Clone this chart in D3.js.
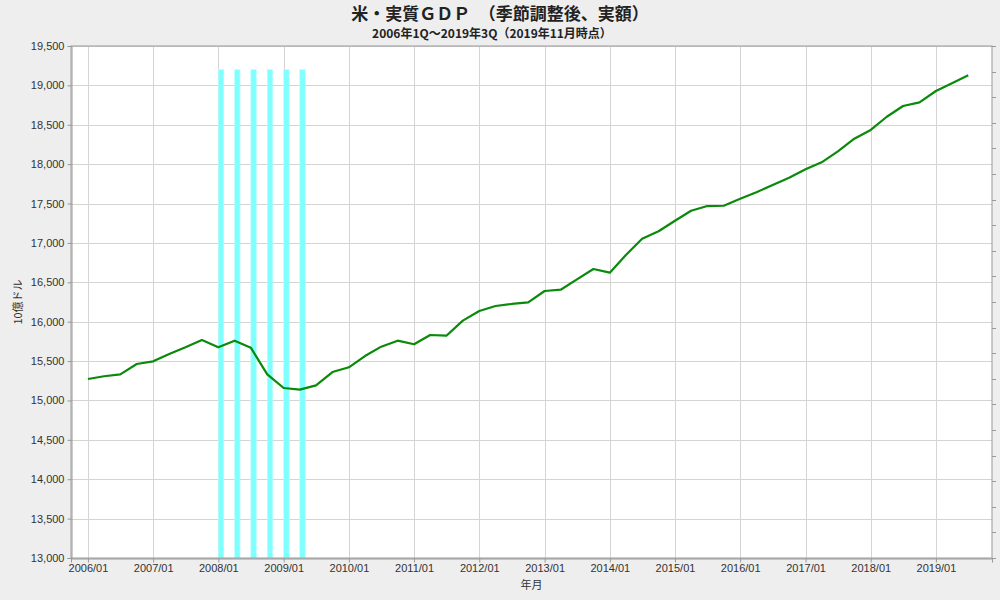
<!DOCTYPE html>
<html>
<head>
<meta charset="utf-8">
<script src="https://cdn.jsdelivr.net/npm/d3@7"></script>
<style>
    body { margin: 0; background: #eeeeee; }
    svg text { font-family: "Liberation Sans", Arial, sans-serif; }
    .jp { font-family: "Noto Sans CJK JP", sans-serif; }
</style>
</head>
<body>
<div id="chart"></div>
<script>
"use strict";

// quarterly real GDP, billions of chained dollars, 2006Q1 .. 2019Q3
var quarters = [];
for (var yr = 2006; yr <= 2019; yr++) {
    for (var q = 0; q < 4; q++) {
        if (yr === 2019 && q > 2) break;
        quarters.push(new Date(yr, q * 3, 1));
    }
}
var gdpValues = [
    15272, 15307, 15332, 15463,   // 2006
    15497, 15590, 15675, 15767,   // 2007
    15675, 15759, 15670, 15332,   // 2008
    15158, 15137, 15192, 15361,   // 2009
    15421, 15564, 15683, 15759,   // 2010
    15713, 15831, 15822, 16013,   // 2011
    16136, 16199, 16225, 16246,   // 2012
    16390, 16406, 16538, 16669,   // 2013
    16622, 16847, 17054, 17148,   // 2014
    17282, 17409, 17468, 17472,   // 2015
    17561, 17643, 17735, 17828,   // 2016
    17934, 18023, 18163, 18323,   // 2017
    18434, 18602, 18738, 18785,   // 2018
    18929, 19026, 19128           // 2019
];
// recession quarters (shaded)
var recessionQuarters = ["2008-01", "2008-04", "2008-07", "2008-10", "2009-01", "2009-04"];
var recessionTop = 19200;
var yTicks = [13000, 13500, 14000, 14500, 15000, 15500, 16000, 16500, 17000, 17500, 18000, 18500, 19000, 19500];
var xTickYears = [2006, 2007, 2008, 2009, 2010, 2011, 2012, 2013, 2014, 2015, 2016, 2017, 2018, 2019];

var data = quarters.map(function (d, i) { return { date: d, value: gdpValues[i] }; });

var width = 1000, height = 600;
var margin = { top: 46, right: 8, bottom: 42, left: 71 };
var plotW = width - margin.left - margin.right;
var plotH = height - margin.top - margin.bottom;

var svg = d3.select("#chart").append("svg")
    .attr("width", width)
    .attr("height", height);

svg.append("rect").attr("width", width).attr("height", height).attr("fill", "#eeeeee");

var x = d3.scaleTime()
    .domain([new Date(2005, 8, 28), new Date(2019, 10, 11)])
    .range([0, plotW]);
var y = d3.scaleLinear()
    .domain([13000, 19500])
    .range([plotH, 0]);

var g = svg.append("g").attr("transform", "translate(" + margin.left + "," + margin.top + ")");

g.append("rect").attr("width", plotW).attr("height", plotH).attr("fill", "#ffffff");

var xTicks = xTickYears.map(function (yv) { return new Date(yv, 0, 1); });

// grid
g.append("g").selectAll("line").data(yTicks).enter().append("line")
    .attr("x1", 0).attr("x2", plotW)
    .attr("y1", function (d) { return Math.round(y(d)) + 0.5; })
    .attr("y2", function (d) { return Math.round(y(d)) + 0.5; })
    .attr("stroke", "#d4d4d4");
g.append("g").selectAll("line").data(xTicks).enter().append("line")
    .attr("y1", 0).attr("y2", plotH)
    .attr("x1", function (d) { return Math.round(x(d)) + 0.5; })
    .attr("x2", function (d) { return Math.round(x(d)) + 0.5; })
    .attr("stroke", "#d4d4d4");

// recession bars
var barW = (x(new Date(2008, 3, 1)) - x(new Date(2008, 0, 1))) / 3;
g.append("g").selectAll("rect").data(recessionQuarters).enter().append("rect")
    .attr("x", function (d) { return x(d3.timeParse("%Y-%m")(d)); })
    .attr("y", y(recessionTop))
    .attr("width", barW)
    .attr("height", function () { return plotH - y(recessionTop); })
    .attr("fill", "#80ffff")
    .attr("stroke", "#b8ffff")
    .attr("stroke-width", 0.6);

// line
var line = d3.line()
    .x(function (d) { return x(d.date); })
    .y(function (d) { return y(d.value); });
g.append("path").datum(data)
    .attr("d", line)
    .attr("fill", "none")
    .attr("stroke", "#0a8a0a")
    .attr("stroke-width", 2.2)
    .attr("stroke-linejoin", "round");

// frame
g.append("rect").attr("width", plotW).attr("height", plotH)
    .attr("fill", "none").attr("stroke", "#999999");

// axes
var yAxis = d3.axisLeft(y).tickValues(yTicks).tickSize(4).tickPadding(3)
    .tickFormat(d3.format(","));
var ya = g.append("g").attr("transform", "translate(0.5,0)").call(yAxis);
var xAxis = d3.axisBottom(x).tickValues(xTicks).tickSize(4).tickPadding(2)
    .tickFormat(d3.timeFormat("%Y/%m"));
var xa = g.append("g").attr("transform", "translate(0," + (plotH + 0.5) + ")").call(xAxis);
[ya, xa].forEach(function (a) {
    a.select(".domain").attr("stroke", "#999999");
    a.selectAll(".tick line").attr("stroke", "#999999");
    a.selectAll(".tick text").attr("fill", "#333333").style("font-size", "11px")
        .style("font-family", "'Liberation Sans', Arial, sans-serif");
});

// small ticks on the right edge
var rTicks = d3.range(0, 21).map(function (i) { return i * plotH / 20; });
g.append("g").selectAll("line").data(rTicks).enter().append("line")
    .attr("x1", plotW).attr("x2", plotW + 4)
    .attr("y1", function (d) { return Math.round(d) + 0.5; })
    .attr("y2", function (d) { return Math.round(d) + 0.5; })
    .attr("stroke", "#999999");

// titles
svg.append("text").attr("class", "jp")
    .attr("x", 500).attr("y", 20)
    .attr("text-anchor", "middle")
    .attr("font-size", 17).attr("font-weight", "bold").attr("fill", "#222")
    .text("米・実質ＧＤＰ　（季節調整後、実額）");
svg.append("text").attr("class", "jp")
    .attr("x", 492).attr("y", 38)
    .attr("text-anchor", "middle")
    .attr("font-size", 12).attr("font-weight", "bold").attr("fill", "#222")
    .text("2006年1Q～2019年3Q（2019年11月時点）");

svg.append("text").attr("class", "jp")
    .attr("transform", "translate(22," + (margin.top + plotH / 2) + ") rotate(-90)")
    .attr("text-anchor", "middle")
    .attr("font-size", 11).attr("fill", "#333")
    .text("10億ドル");
svg.append("text").attr("class", "jp")
    .attr("x", margin.left + plotW / 2).attr("y", 589)
    .attr("text-anchor", "middle")
    .attr("font-size", 11).attr("fill", "#333")
    .text("年月");
</script>
</body>
</html>
